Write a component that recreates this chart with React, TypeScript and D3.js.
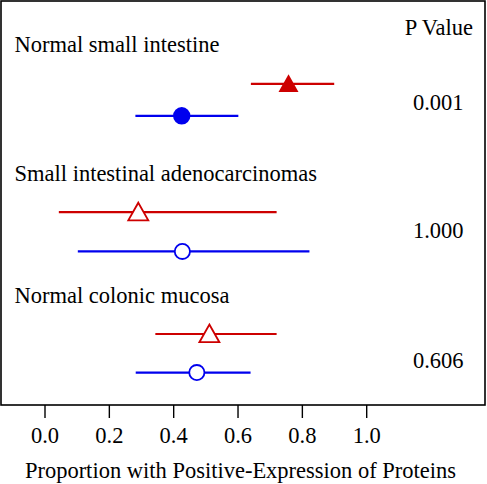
import React from "react";
import * as d3 from "d3";

// ---- data ----
const categories = [
  "Normal small intestine",
  "Small intestinal adenocarcinomas",
  "Normal colonic mucosa",
];
const pValues = ["0.001", "1.000", "0.606"];
const redEst = [0.757, 0.29, 0.511];
const redLo = [0.64, 0.043, 0.343];
const redHi = [0.899, 0.72, 0.72];
const blueEst = [0.425, 0.427, 0.472];
const blueLo = [0.281, 0.102, 0.282];
const blueHi = [0.601, 0.822, 0.639];
const filledMarkers = [true, false, false];
// vertical positions in plot units (0 = bottom of box, 101 = top)
const titleY = [88.25, 56.0, 25.6];
const redY = [80.3, 48.2, 17.75];
const blueY = [72.3, 38.4, 8.1];
const pValueY = [73.75, 41.7, 9.2];
const xTicks = [0, 0.2, 0.4, 0.6, 0.8, 1.0];
const xTitle = "Proportion with Positive-Expression of Proteins";
const pHeader = "P Value";

const W = 487;
const H = 484;
const RED = "#CD0000";
const BLUE = "#0000EE";
const FONT = "'Liberation Serif', 'Times New Roman', serif";
const FS = 22.5;

export default function App() {
  const box = { left: 1, right: 485, top: 1, bottom: 405 };
  const x = d3.scaleLinear().domain([0, 1]).range([45, 366.7]);
  const y = d3.scaleLinear().domain([0, 101]).range([box.bottom, box.top]);

  const tri = (cx: number, cy: number) => {
    const p = d3.path();
    p.moveTo(cx, cy - 9.5);
    p.lineTo(cx + 10, cy + 8.2);
    p.lineTo(cx - 10, cy + 8.2);
    p.closePath();
    return p.toString();
  };

  return (
    <svg
      width={W}
      height={H}
      style={{ position: "absolute", left: 0, top: 0, background: "#fff" }}
      fontFamily={FONT}
    >
      <rect x={0} y={0} width={W} height={H} fill="#fff" />
      <rect
        x={box.left}
        y={box.top}
        width={box.right - box.left}
        height={box.bottom - box.top}
        fill="none"
        stroke="#000"
        strokeWidth={1.6}
      />
      <text x={473} y={35} fontSize={FS} textAnchor="end" fill="#000">
        {pHeader}
      </text>
      {categories.map((c, i) => (
        <g key={c}>
          <text x={14.5} y={y(titleY[i])} fontSize={FS} fill="#000">
            {c}
          </text>
          <line
            x1={x(redLo[i])}
            x2={x(redHi[i])}
            y1={y(redY[i])}
            y2={y(redY[i])}
            stroke={RED}
            strokeWidth={2.2}
          />
          <path
            d={tri(x(redEst[i]), y(redY[i]))}
            fill={filledMarkers[i] ? RED : "#fff"}
            stroke={RED}
            strokeWidth={filledMarkers[i] ? 0 : 1.8}
          />
          <line
            x1={x(blueLo[i])}
            x2={x(blueHi[i])}
            y1={y(blueY[i])}
            y2={y(blueY[i])}
            stroke={BLUE}
            strokeWidth={2.2}
          />
          <circle
            cx={x(blueEst[i])}
            cy={y(blueY[i])}
            r={filledMarkers[i] ? 8.7 : 7.6}
            fill={filledMarkers[i] ? BLUE : "#fff"}
            stroke={BLUE}
            strokeWidth={filledMarkers[i] ? 0 : 1.8}
          />
          <text
            x={463.5}
            y={y(pValueY[i])}
            fontSize={FS}
            textAnchor="end"
            fill="#000"
          >
            {pValues[i]}
          </text>
        </g>
      ))}
      {xTicks.map((t) => (
        <g key={t}>
          <line
            x1={x(t)}
            x2={x(t)}
            y1={box.bottom}
            y2={box.bottom + 13}
            stroke="#000"
            strokeWidth={1.4}
          />
          <text
            x={x(t)}
            y={443}
            fontSize={FS}
            textAnchor="middle"
            fill="#000"
          >
            {d3.format(".1f")(t)}
          </text>
        </g>
      ))}
      <text x={240.5} y={478} fontSize={FS} textAnchor="middle" fill="#000">
        {xTitle}
      </text>
    </svg>
  );
}
